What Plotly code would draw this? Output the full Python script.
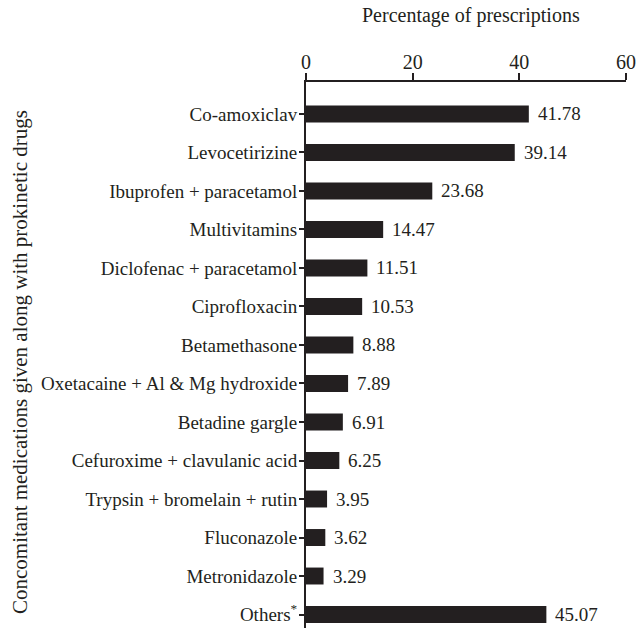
import plotly.graph_objects as go

categories = [
    "Co-amoxiclav",
    "Levocetirizine",
    "Ibuprofen + paracetamol",
    "Multivitamins",
    "Diclofenac + paracetamol",
    "Ciprofloxacin",
    "Betamethasone",
    "Oxetacaine + Al & Mg hydroxide",
    "Betadine gargle",
    "Cefuroxime + clavulanic acid",
    "Trypsin + bromelain + rutin",
    "Fluconazole",
    "Metronidazole",
    "Others<sup>*</sup>",
]
values = [41.78, 39.14, 23.68, 14.47, 11.51, 10.53, 8.88, 7.89, 6.91, 6.25, 3.95, 3.62, 3.29, 45.07]
x_ticks = [0, 20, 40, 60]

FONT = "Liberation Serif, Times New Roman, serif"
INK = "#231f20"

fig = go.Figure()
fig.add_trace(go.Bar(
    x=values, y=categories, orientation="h",
    marker=dict(color=INK, line=dict(width=0)),
    width=0.44,
    hoverinfo="x+y",
))

for c, v in zip(categories, values):
    fig.add_annotation(x=v, y=c, text=f"{v:.2f}", showarrow=False,
                       xanchor="left", yanchor="middle", xshift=7,
                       font=dict(family=FONT, size=19, color=INK))

fig.add_annotation(xref="paper", yref="paper", x=0.517, y=1.1227,
                   text="Percentage of prescriptions", showarrow=False,
                   xanchor="center", yanchor="middle",
                   font=dict(family=FONT, size=20, color=INK))
fig.add_annotation(xref="paper", yref="paper", x=-0.894, y=0.487,
                   text="Concomitant medications given along with prokinetic drugs",
                   showarrow=False, textangle=-90,
                   xanchor="center", yanchor="middle",
                   font=dict(family=FONT, size=21, color=INK))

fig.update_layout(
    width=637, height=628,
    margin=dict(l=306, r=11, t=82, b=0, pad=0),
    paper_bgcolor="white", plot_bgcolor="white",
    showlegend=False,
    font=dict(family=FONT, size=19, color=INK),
    xaxis=dict(
        side="top", range=[0, 60], tickvals=x_ticks, ticktext=[str(t) for t in x_ticks],
        showgrid=False, zeroline=False,
        showline=True, linecolor=INK, linewidth=2,
        ticks="outside", ticklen=7, tickwidth=2, tickcolor=INK,
        tickfont=dict(family=FONT, size=20, color=INK),
        ticklabelstandoff=-4,
    ),
    yaxis=dict(
        type="category", categoryorder="array", categoryarray=categories,
        range=[13.35, -0.83],
        showgrid=False, zeroline=False,
        showline=True, linecolor=INK, linewidth=2,
        ticks="outside", ticklen=5, tickwidth=1.5, tickcolor=INK,
        tickfont=dict(family=FONT, size=19, color=INK),
        ticklabelstandoff=-2,
    ),
)

fig.write_html(
    "out.html",
    config={"displayModeBar": False},
    post_script="document.body.style.margin='0';document.body.style.overflow='hidden';",
)
